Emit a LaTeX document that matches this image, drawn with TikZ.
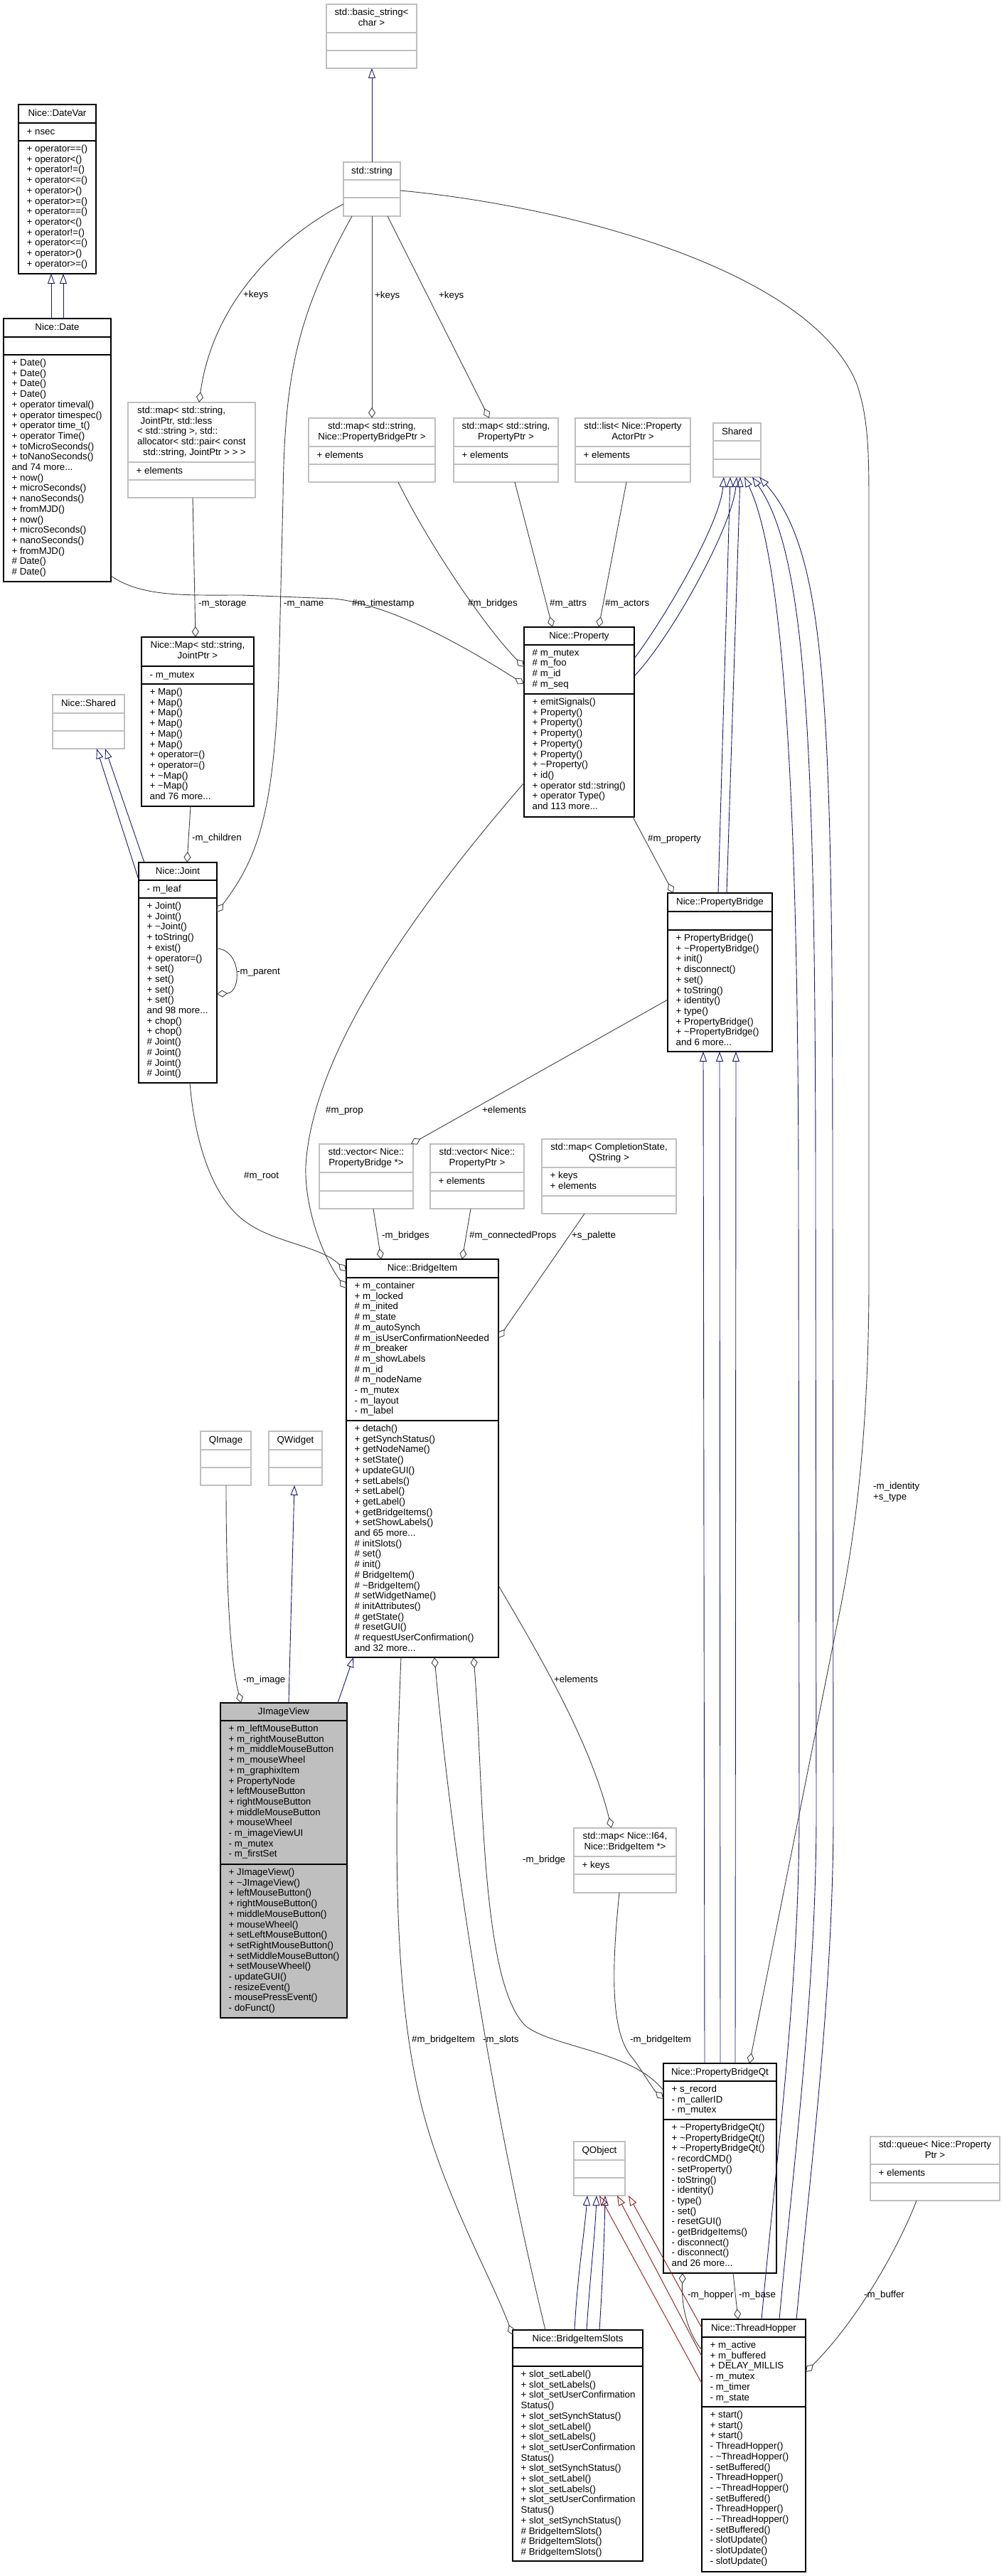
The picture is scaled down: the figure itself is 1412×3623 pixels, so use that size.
\documentclass[tikz,border=0pt]{standalone}
\usepackage{fontspec}
\setmainfont{Liberation Sans}
\usetikzlibrary{arrows.meta}
\definecolor{navy}{HTML}{191970}
\definecolor{dred}{HTML}{8B1A1A}
\definecolor{ugray}{HTML}{404040}
\definecolor{bgray}{HTML}{BFBFBF}
\newcommand{\tl}{\textasciitilde}
\newcommand{\cls}[8]{%
  \node[#2cls, anchor=north west, minimum width={(#5-#3)*1pt}, minimum height={(#6-#4)*1pt}] (#1) at (#3,#4) {};
  \draw[#2sep] (#1.west |- 0,#7) -- (#1.east |- 0,#7);
  \draw[#2sep] (#1.west |- 0,#8) -- (#1.east |- 0,#8);}
\newcommand{\ttl}[5]{\node[txt, align=center, anchor=north] (#1) at ({(#2+#3)/2},{#4+5.7}) {#5};}
\newcommand{\mem}[4]{\node[txt, align=left, anchor=north west] (#1) at ({#2+11.5},{#3+5.7}) {#4};}
\newcommand{\lab}[4]{\node[lbl] (#1) at (#2,#3) {#4};}
\begin{document}
\begin{tikzpicture}[x=1pt, y=-1pt,
 dcls/.style={draw=black, line width=1.2pt, fill=white, inner sep=0, outer sep=0},
 ucls/.style={draw=bgray, line width=1.2pt, fill=white, inner sep=0, outer sep=0},
 hcls/.style={draw=black, line width=1.2pt, fill=bgray, inner sep=0, outer sep=0},
 dsep/.style={draw=black, line width=1.2pt},
 usep/.style={draw=bgray, line width=1.2pt},
 hsep/.style={draw=black, line width=1.2pt},
 txt/.style={font=\fontsize{13.3}{14.7}\selectfont, inner sep=0, execute at begin node=\strut},
 lbl/.style={font=\fontsize{13.3}{14.7}\selectfont, inner sep=0, anchor=west, text height=9.5pt, text depth=2.8pt},
 inh/.style={draw=navy, line width=0.9pt, -{Triangle[open, length=14pt, width=10pt]}},
 inhr/.style={draw=dred, line width=0.9pt, -{Triangle[open, length=14pt, width=10pt]}},
 agg/.style={draw=ugray, line width=0.9pt, -{Diamond[open, length=15pt, width=10pt]}},
 aggs/.style={draw=ugray, line width=0.9pt, {Diamond[open, length=15pt, width=10pt]}-}]
\useasboundingbox (0,0) rectangle (1412,3623);
\fill[white] (0,0) rectangle (1412,3623);

% ---------- boxes ----------
\cls{basicstr}{u}{459}{6}{586}{96}{46}{71}
\cls{stdstr}{u}{483}{228}{563}{304}{253}{278}
\cls{datevar}{d}{26}{147}{135}{385}{173}{198}
\cls{date}{d}{5}{448}{156}{818}{474}{499}
\cls{jmap}{u}{180}{566}{359}{700}{650}{675}
\cls{mappb}{u}{434}{588}{612}{678}{628}{653}
\cls{mapprop}{u}{638}{588}{785}{678}{628}{653}
\cls{listact}{u}{809}{588}{971}{678}{628}{653}
\cls{shared}{u}{1003}{595}{1070}{671}{620}{646}
\cls{nmap}{d}{199}{896}{357}{1134}{937}{962}
\cls{nshared}{u}{74}{977}{175}{1053}{1003}{1028}
\cls{property}{d}{737}{882}{892}{1149}{907}{976}
\cls{joint}{d}{195}{1213}{305}{1523}{1238}{1263}
\cls{pbridge}{d}{939}{1256}{1086}{1479}{1282}{1308}
\cls{vecpb}{u}{449}{1609}{581}{1700}{1649}{1675}
\cls{vecpp}{u}{605}{1609}{737}{1700}{1649}{1675}
\cls{mapcs}{u}{762}{1602}{951}{1707}{1642}{1682}
\cls{bitem}{d}{487}{1771}{701}{2331}{1797}{1998}
\cls{qimage}{u}{282}{2013}{353}{2089}{2039}{2064}
\cls{qwidget}{u}{378}{2013}{453}{2089}{2039}{2064}
\cls{jiv}{h}{310}{2395}{488}{2838}{2420}{2622}
\cls{mapi64}{u}{807}{2571}{951}{2662}{2611}{2636}
\cls{pbqt}{d}{933}{2902}{1092}{3197}{2927}{2981}
\cls{qobject}{u}{807}{3012}{879}{3088}{3038}{3063}
\cls{queue}{u}{1224}{3005}{1406}{3095}{3044}{3070}
\cls{slots}{d}{721}{3277}{904}{3602}{3302}{3328}
\cls{hopper}{d}{987}{3262}{1133}{3617}{3287}{3385}

% ---------- inheritance ----------
\draw[inh] (523,0 |- stdstr.north) -- (523,0 |- basicstr.south);
\draw[inh] (72,0 |- date.north) -- (72,0 |- datevar.south);
\draw[inh] (89,0 |- date.north) -- (89,0 |- datevar.south);
\draw[inh] (joint.west |- 0,1237) -- (136,0 |- nshared.south);
\draw[inh] (203,0 |- joint.north) -- (148,0 |- nshared.south);
\draw[inh] (406,0 |- jiv.north) -- (414,0 |- qwidget.south);
\draw[inh] (475,0 |- jiv.north) -- (497,0 |- bitem.south);
\draw[inh] (property.east |- 0,926) .. controls (930,876) and (1012,740) .. (1018,0 |- shared.south);
\draw[inh] (property.east |- 0,951) .. controls (945,895) and (1030,740) .. (1036,0 |- shared.south);
\draw[inh] (1010,0 |- pbridge.north) -- (1027,0 |- shared.south);
\draw[inh] (1022,0 |- pbridge.north) -- (1041,0 |- shared.south);
\draw[inh] (1071,0 |- hopper.north) .. controls (1090,3050) and (1124,2800) .. (1124,2550) -- (1123,1700) .. controls (1123,1100) and (1100,780) .. (1047,0 |- shared.south);
\draw[inh] (1096,0 |- hopper.north) .. controls (1115,3050) and (1148,2800) .. (1148,2550) -- (1147,1700) .. controls (1147,1050) and (1135,780) .. (1058,0 |- shared.south);
\draw[inh] (1120,0 |- hopper.north) .. controls (1140,3050) and (1172,2800) .. (1172,2550) -- (1171,1700) .. controls (1171,1000) and (1165,780) .. (1068,0 |- shared.south);
\draw[inh] (991,0 |- pbqt.north) -- (989,0 |- pbridge.south);
\draw[inh] (1013,0 |- pbqt.north) -- (1012,0 |- pbridge.south);
\draw[inh] (1034,0 |- pbqt.north) -- (1035,0 |- pbridge.south);
\draw[inh] (808,0 |- slots.north) .. controls (812,3200) and (822,3140) .. (826,0 |- qobject.south);
\draw[inh] (825,0 |- slots.north) .. controls (830,3200) and (837,3140) .. (839,0 |- qobject.south);
\draw[inh] (843,0 |- slots.north) .. controls (848,3200) and (850,3140) .. (851,0 |- qobject.south);
\draw[inhr] (hopper.west |- 0,3274) -- (884,0 |- qobject.south);
\draw[inhr] (hopper.west |- 0,3314) -- (868,0 |- qobject.south);
\draw[inhr] (hopper.west |- 0,3352) -- (843,0 |- qobject.south);

% ---------- usage ----------
\draw[agg] (stdstr.west |- 0,287) .. controls (400,330) and (300,420) .. (280,0 |- jmap.north);
\draw[agg] (523,0 |- stdstr.south) -- (523,0 |- mappb.north);
\draw[agg] (545,0 |- stdstr.south) -- (688,0 |- mapprop.north);
\draw[agg] (495,0 |- stdstr.south) .. controls (420,440) and (400,520) .. (398,700) -- (392,950) .. controls (385,1150) and (360,1210) .. (joint.east |- 0,1283);
\draw[agg] (271,0 |- jmap.south) -- (275,0 |- nmap.north);
\draw[agg] (268,0 |- nmap.south) -- (263,0 |- joint.north);
\draw[agg] (joint.east |- 0,1334) .. controls (340,1336) and (340,1396) .. (joint.east |- 0,1398);
\draw[agg] (date.east |- 0,810) .. controls (200,840) and (260,837) .. (340,837) -- (470,842) .. controls (560,852) and (670,920) .. (property.west |- 0,962);
\draw[agg] (560,0 |- mappb.south) .. controls (600,760) and (680,880) .. (property.west |- 0,938);
\draw[agg] (724,0 |- mapprop.south) -- (777,0 |- property.north);
\draw[agg] (881,0 |- listact.south) -- (842,0 |- property.north);
\draw[agg] (890,0 |- property.south) -- (947,0 |- pbridge.north);
\draw[agg] (property.west |- 0,1101) .. controls (600,1260) and (440,1470) .. (430,1640) .. controls (428,1700) and (455,1770) .. (bitem.west |- 0,1812);
\draw[agg] (pbridge.west |- 0,1406) -- (578,0 |- vecpb.north);
\draw[agg] (525,0 |- vecpb.south) -- (536,0 |- bitem.north);
\draw[agg] (662,0 |- vecpp.south) -- (650,0 |- bitem.north);
\draw[agg] (822,0 |- mapcs.south) -- (bitem.east |- 0,1882);
\draw[agg] (267,0 |- joint.south) .. controls (275,1620) and (305,1690) .. (345,1718) .. controls (385,1748) and (450,1752) .. (bitem.west |- 0,1788);
\draw[agg] (318,0 |- qimage.south) .. controls (318,2250) and (325,2340) .. (339,0 |- jiv.north);
\draw[agg] (bitem.east |- 0,2230) .. controls (760,2330) and (830,2450) .. (860,0 |- mapi64.north);
\draw[agg] (564,0 |- bitem.south) .. controls (553,2600) and (555,2800) .. (590,2950) .. controls (620,3080) and (690,3200) .. (slots.west |- 0,3284);
\draw[aggs] (611,0 |- bitem.south) .. controls (640,2650) and (700,3000) .. (767,0 |- slots.north);
\draw[aggs] (666,0 |- bitem.south) .. controls (680,2500) and (675,2790) .. (740,2850) .. controls (780,2880) and (890,2885) .. (pbqt.west |- 0,2940);
\draw[agg] (871,0 |- mapi64.south) .. controls (860,2770) and (858,2860) .. (890,2895) .. controls (905,2915) and (918,2938) .. (pbqt.west |- 0,2952);
\draw[agg] (stdstr.east |- 0,268) .. controls (800,290) and (1140,380) .. (1205,540) .. controls (1222,590) and (1222,640) .. (1222,720) -- (1222,1800) .. controls (1222,2050) and (1195,2200) .. (1176,2291) -- (1054,0 |- pbqt.north);
\draw[agg] (1289,0 |- queue.south) .. controls (1260,3170) and (1200,3270) .. (hopper.east |- 0,3336);
\draw[aggs] (960,0 |- pbqt.south) .. controls (958,3250) and (970,3285) .. (hopper.west |- 0,3305);
\draw[agg] (1031,0 |- pbqt.south) -- (1038,0 |- hopper.north);

% ---------- texts ----------
\ttl{basicstr-t}{459}{586}{6}{std::basic\_string<\\char >}
\ttl{stdstr-t}{483}{563}{228}{std::string}
\ttl{datevar-t}{26}{135}{147}{Nice::DateVar}
\mem{datevar-a}{26}{173}{+ nsec}
\mem{datevar-m}{26}{198}{+ operator==()\\+ operator<()\\+ operator!=()\\+ operator<=()\\+ operator>()\\+ operator>=()\\+ operator==()\\+ operator<()\\+ operator!=()\\+ operator<=()\\+ operator>()\\+ operator>=()}
\ttl{date-t}{5}{156}{448}{Nice::Date}
\mem{date-m}{5}{499}{+ Date()\\+ Date()\\+ Date()\\+ Date()\\+ operator timeval()\\+ operator timespec()\\+ operator time\_t()\\+ operator Time()\\+ toMicroSeconds()\\+ toNanoSeconds()\\and 74 more...\\+ now()\\+ microSeconds()\\+ nanoSeconds()\\+ fromMJD()\\+ now()\\+ microSeconds()\\+ nanoSeconds()\\+ fromMJD()\\\# Date()\\\# Date()}
\node[txt, align=left, anchor=north] (jmap-t) at (269.5,571.7) {std::map< std::string,\\\hspace*{4.5pt}JointPtr, std::less\\< std::string >, std::\\allocator< std::pair< const\\\hspace*{8pt}std::string, JointPtr > > >};
\mem{jmap-a}{180}{650}{+ elements}
\ttl{mappb-t}{434}{612}{588}{std::map< std::string,\\Nice::PropertyBridgePtr >}
\mem{mappb-a}{434}{628}{+ elements}
\ttl{mapprop-t}{638}{785}{588}{std::map< std::string,\\PropertyPtr >}
\mem{mapprop-a}{638}{628}{+ elements}
\ttl{listact-t}{809}{971}{588}{std::list< Nice::Property\\ActorPtr >}
\mem{listact-a}{809}{628}{+ elements}
\ttl{shared-t}{1003}{1070}{595}{Shared}
\ttl{nmap-t}{199}{357}{896}{Nice::Map< std::string,\\JointPtr >}
\mem{nmap-a}{199}{937}{- m\_mutex}
\mem{nmap-m}{199}{962}{+ Map()\\+ Map()\\+ Map()\\+ Map()\\+ Map()\\+ Map()\\+ operator=()\\+ operator=()\\+ \tl Map()\\+ \tl Map()\\and 76 more...}
\ttl{nshared-t}{74}{175}{977}{Nice::Shared}
\ttl{property-t}{737}{892}{882}{Nice::Property}
\mem{property-a}{737}{907}{\# m\_mutex\\\# m\_foo\\\# m\_id\\\# m\_seq}
\mem{property-m}{737}{976}{+ emitSignals()\\+ Property()\\+ Property()\\+ Property()\\+ Property()\\+ Property()\\+ \tl Property()\\+ id()\\+ operator std::string()\\+ operator Type()\\and 113 more...}
\ttl{joint-t}{195}{305}{1213}{Nice::Joint}
\mem{joint-a}{195}{1238}{- m\_leaf}
\mem{joint-m}{195}{1263}{+ Joint()\\+ Joint()\\+ \tl Joint()\\+ toString()\\+ exist()\\+ operator=()\\+ set()\\+ set()\\+ set()\\+ set()\\and 98 more...\\+ chop()\\+ chop()\\\# Joint()\\\# Joint()\\\# Joint()\\\# Joint()}
\ttl{pbridge-t}{939}{1086}{1256}{Nice::PropertyBridge}
\mem{pbridge-m}{939}{1308}{+ PropertyBridge()\\+ \tl PropertyBridge()\\+ init()\\+ disconnect()\\+ set()\\+ toString()\\+ identity()\\+ type()\\+ PropertyBridge()\\+ \tl PropertyBridge()\\and 6 more...}
\ttl{vecpb-t}{449}{581}{1609}{std::vector< Nice::\\PropertyBridge *>}
\ttl{vecpp-t}{605}{737}{1609}{std::vector< Nice::\\PropertyPtr >}
\mem{vecpp-a}{605}{1649}{+ elements}
\ttl{mapcs-t}{762}{951}{1602}{std::map< CompletionState,\\QString >}
\mem{mapcs-a}{762}{1642}{+ keys\\+ elements}
\ttl{bitem-t}{487}{701}{1771}{Nice::BridgeItem}
\mem{bitem-a}{487}{1797}{+ m\_container\\+ m\_locked\\\# m\_inited\\\# m\_state\\\# m\_autoSynch\\\# m\_isUserConfirmationNeeded\\\# m\_breaker\\\# m\_showLabels\\\# m\_id\\\# m\_nodeName\\- m\_mutex\\- m\_layout\\- m\_label}
\mem{bitem-m}{487}{1998}{+ detach()\\+ getSynchStatus()\\+ getNodeName()\\+ setState()\\+ updateGUI()\\+ setLabels()\\+ setLabel()\\+ getLabel()\\+ getBridgeItems()\\+ setShowLabels()\\and 65 more...\\\# initSlots()\\\# set()\\\# init()\\\# BridgeItem()\\\# \tl BridgeItem()\\\# setWidgetName()\\\# initAttributes()\\\# getState()\\\# resetGUI()\\\# requestUserConfirmation()\\and 32 more...}
\ttl{qimage-t}{282}{353}{2013}{QImage}
\ttl{qwidget-t}{378}{453}{2013}{QWidget}
\ttl{jiv-t}{310}{488}{2395}{JImageView}
\mem{jiv-a}{310}{2420}{+ m\_leftMouseButton\\+ m\_rightMouseButton\\+ m\_middleMouseButton\\+ m\_mouseWheel\\+ m\_graphixItem\\+ PropertyNode\\+ leftMouseButton\\+ rightMouseButton\\+ middleMouseButton\\+ mouseWheel\\- m\_imageViewUI\\- m\_mutex\\- m\_firstSet}
\mem{jiv-m}{310}{2622}{+ JImageView()\\+ \tl JImageView()\\+ leftMouseButton()\\+ rightMouseButton()\\+ middleMouseButton()\\+ mouseWheel()\\+ setLeftMouseButton()\\+ setRightMouseButton()\\+ setMiddleMouseButton()\\+ setMouseWheel()\\- updateGUI()\\- resizeEvent()\\- mousePressEvent()\\- doFunct()}
\ttl{mapi64-t}{807}{951}{2571}{std::map< Nice::I64,\\Nice::BridgeItem *>}
\mem{mapi64-a}{807}{2611}{+ keys}
\ttl{pbqt-t}{933}{1092}{2902}{Nice::PropertyBridgeQt}
\mem{pbqt-a}{933}{2927}{+ s\_record\\- m\_callerID\\- m\_mutex}
\mem{pbqt-m}{933}{2981}{+ \tl PropertyBridgeQt()\\+ \tl PropertyBridgeQt()\\+ \tl PropertyBridgeQt()\\- recordCMD()\\- setProperty()\\- toString()\\- identity()\\- type()\\- set()\\- resetGUI()\\- getBridgeItems()\\- disconnect()\\- disconnect()\\and 26 more...}
\ttl{qobject-t}{807}{879}{3012}{QObject}
\ttl{queue-t}{1224}{1406}{3005}{std::queue< Nice::Property\\Ptr >}
\mem{queue-a}{1224}{3044}{+ elements}
\ttl{slots-t}{721}{904}{3277}{Nice::BridgeItemSlots}
\mem{slots-m}{721}{3328}{+ slot\_setLabel()\\+ slot\_setLabels()\\+ slot\_setUserConfirmation\\Status()\\+ slot\_setSynchStatus()\\+ slot\_setLabel()\\+ slot\_setLabels()\\+ slot\_setUserConfirmation\\Status()\\+ slot\_setSynchStatus()\\+ slot\_setLabel()\\+ slot\_setLabels()\\+ slot\_setUserConfirmation\\Status()\\+ slot\_setSynchStatus()\\\# BridgeItemSlots()\\\# BridgeItemSlots()\\\# BridgeItemSlots()}
\ttl{hopper-t}{987}{1133}{3262}{Nice::ThreadHopper}
\mem{hopper-a}{987}{3287}{+ m\_active\\+ m\_buffered\\+ DELAY\_MILLIS\\- m\_mutex\\- m\_timer\\- m\_state}
\mem{hopper-m}{987}{3385}{+ start()\\+ start()\\+ start()\\- ThreadHopper()\\- \tl ThreadHopper()\\- setBuffered()\\- ThreadHopper()\\- \tl ThreadHopper()\\- setBuffered()\\- ThreadHopper()\\- \tl ThreadHopper()\\- setBuffered()\\- slotUpdate()\\- slotUpdate()\\- slotUpdate()}

% ---------- connector labels ----------
\lab{l-keys1}{342}{415}{+keys}
\lab{l-keys2}{527}{416}{+keys}
\lab{l-keys3}{617}{416}{+keys}
\lab{l-storage}{279}{849}{-m\_storage}
\lab{l-name}{399}{849}{-m\_name}
\lab{l-timestamp}{495}{849}{\#m\_timestamp}
\lab{l-bridges}{658}{849}{\#m\_bridges}
\lab{l-attrs}{773}{849}{\#m\_attrs}
\lab{l-actors}{851}{849}{\#m\_actors}
\lab{l-children}{270}{1179}{-m\_children}
\lab{l-property}{911}{1180}{\#m\_property}
\lab{l-parent}{333}{1367}{-m\_parent}
\lab{l-elem1}{678}{1562}{+elements}
\lab{l-prop}{458}{1562}{\#m\_prop}
\lab{l-root}{343}{1654}{\#m\_root}
\lab{l-bridges2}{537}{1738}{-m\_bridges}
\lab{l-cprops}{660}{1738}{\#m\_connectedProps}
\lab{l-palette}{804}{1738}{+s\_palette}
\lab{l-image}{342}{2363}{-m\_image}
\lab{l-elem2}{779}{2363}{+elements}
\node[txt, align=left, anchor=north west] (l-identity) at (1228,2085) {-m\_identity\\+s\_type};
\lab{l-bridge}{735}{2616}{-m\_bridge}
\lab{l-bitem}{579}{2869}{\#m\_bridgeItem}
\lab{l-slots}{679}{2869}{-m\_slots}
\lab{l-bitem2}{886}{2869}{-m\_bridgeItem}
\lab{l-hopper}{967}{3228}{-m\_hopper}
\lab{l-base}{1039}{3228}{-m\_base}
\lab{l-buffer}{1215}{3228}{-m\_buffer}
\end{tikzpicture}
\end{document}
